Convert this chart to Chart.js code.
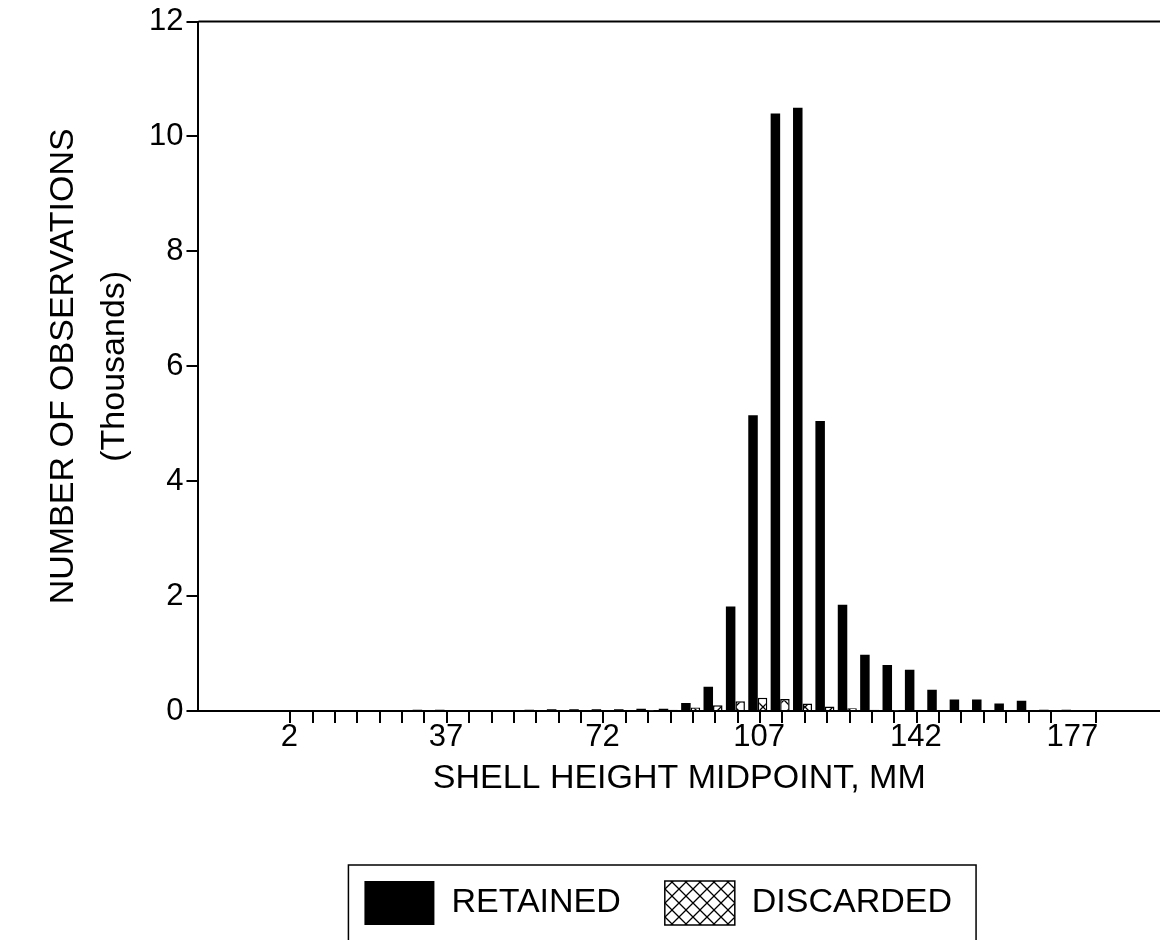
<!DOCTYPE html>
<html>
<head>
<meta charset="utf-8">
<script src="https://cdn.jsdelivr.net/npm/chart.js@4.4.1/dist/chart.umd.min.js"></script>
<style>
html,body{margin:0;padding:0;background:#ffffff;}
#wrap{width:1160px;height:940px;position:relative;overflow:hidden;}
</style>
</head>
<body>
<div id="wrap"><canvas id="c" width="1160" height="940"></canvas></div>
<script>
// Shell height class midpoints (mm)
const midpoints = [2,7,12,17,22,27,32,37,42,47,52,57,62,67,72,77,82,87,92,97,102,107,112,117,122,127,132,137,142,147,152,157,162,167,172];
// Number of observations (thousands)
const retained  = [0,0,0,0,0,0.02,0.02,0,0.01,0,0.02,0.03,0.03,0.03,0.03,0.04,0.04,0.14,0.42,1.82,5.15,10.4,10.5,5.05,1.85,0.98,0.8,0.72,0.37,0.2,0.2,0.13,0.18,0.02,0.02];
const discarded = [0,0,0,0,0,0,0,0,0,0,0,0,0,0,0,0.01,0.02,0.06,0.1,0.17,0.23,0.21,0.13,0.08,0.05,0.02,0.01,0,0,0,0,0,0,0,0];
// Class boundaries carrying tick marks, and the labelled midpoints
const tickBoundaries = [0,5,10,15,20,25,30,35,40,45,50,55,60,65,70,75,80,85,90,95,100,105,110,115,120,125,130,135,140,145,150,155,160,165,170,175];
const lastTickMark = 170;
const tickLabels = ['2','37','72','107','142','177'];
const yTicks = [0,2,4,6,8,10,12];

const FONT = "'Liberation Sans', Arial, Helvetica, sans-serif";
const ctx = document.getElementById('c').getContext('2d');

function makeHatch() {
  const s = 14;
  const t = document.createElement('canvas');
  t.width = s; t.height = s;
  const g = t.getContext('2d');
  g.fillStyle = '#ffffff';
  g.fillRect(0, 0, s, s);
  g.strokeStyle = '#000000';
  g.lineWidth = 1.3;
  g.beginPath();
  g.moveTo(-2, -2); g.lineTo(s + 2, s + 2);
  g.moveTo(s + 2, -2); g.lineTo(-2, s + 2);
  g.stroke();
  return ctx.createPattern(t, 'repeat');
}
const hatch = makeHatch();

const framePlugin = {
  id: 'frame',
  afterLayout(chart) {
    // nudge the legend block slightly left, as in the original
    const lg = chart.legend;
    if (lg) { lg.left -= 21; lg.right -= 21; }
  },
  afterDraw(chart) {
    const c = chart.ctx, a = chart.chartArea;
    c.save();
    c.strokeStyle = '#000';
    c.lineWidth = 2;
    c.beginPath();
    c.moveTo(a.left, a.top);
    c.lineTo(a.right, a.top);
    c.stroke();
    const hb = chart.legend && chart.legend.legendHitBoxes;
    if (hb && hb.length) {
      const first = hb[0], last = hb[hb.length - 1];
      const l = first.left - 16, t = first.top - 16;
      const r = last.left + last.width + 24;
      c.lineWidth = 1.5;
      c.strokeRect(l, t, r - l, chart.height + 30 - t);
    }
    c.restore();
  }
};

new Chart(ctx, {
  type: 'bar',
  data: {
    datasets: [
      {
        label: 'RETAINED',
        data: midpoints.map((m, i) => ({x: m, y: retained[i]})),
        backgroundColor: '#000000',
        borderColor: '#000000',
        borderWidth: 0,
        categoryPercentage: 0.85,
        barPercentage: 1.0
      },
      {
        label: 'DISCARDED',
        data: midpoints.map((m, i) => ({x: m, y: discarded[i]})),
        backgroundColor: hatch,
        borderColor: '#000000',
        borderWidth: 1.5,
        categoryPercentage: 0.85,
        barPercentage: 1.0
      }
    ]
  },
  options: {
    responsive: false,
    animation: false,
    devicePixelRatio: 1,
    layout: { padding: { left: 34, right: 0, top: 4, bottom: 5 } },
    plugins: {
      tooltip: { enabled: false },
      legend: {
        position: 'bottom',
        fullSize: false,
        labels: {
          color: '#000',
          font: { family: FONT, size: 34 },
          boxWidth: 70,
          boxHeight: 44,
          padding: 44
        }
      }
    },
    scales: {
      x: {
        type: 'linear',
        min: -22.98,
        max: 191.88,
        offset: false,
        afterBuildTicks: (scale) => { scale.ticks = tickBoundaries.map(v => ({ value: v })); },
        ticks: {
          autoSkip: false,
          maxRotation: 0,
          minRotation: 0,
          labelOffset: -12,
          padding: -4,
          color: '#000',
          font: { family: FONT, size: 31 },
          callback: (v) => {
            const idx = tickLabels.indexOf(String(v + 2));
            return idx >= 0 ? tickLabels[idx] : '';
          }
        },
        grid: {
          drawOnChartArea: false,
          drawTicks: true,
          tickLength: 12,
          lineWidth: 2,
          color: (c) => (c.tick && c.tick.value > lastTickMark) ? 'rgba(0,0,0,0)' : '#000'
        },
        border: { display: true, color: '#000', width: 2 },
        title: {
          display: true,
          text: 'SHELL HEIGHT MIDPOINT, MM',
          color: '#000',
          font: { family: FONT, size: 34 },
          padding: { top: 6, bottom: 38 }
        }
      },
      y: {
        min: 0,
        max: 12,
        afterBuildTicks: (scale) => { scale.ticks = yTicks.map(v => ({ value: v })); },
        ticks: {
          color: '#000',
          padding: 3,
          font: { family: FONT, size: 31 }
        },
        grid: {
          drawOnChartArea: false,
          drawTicks: true,
          tickLength: 12,
          lineWidth: 2,
          color: '#000'
        },
        border: { display: true, color: '#000', width: 2 },
        title: {
          display: true,
          text: ['NUMBER OF OBSERVATIONS', '(Thousands)'],
          color: '#000',
          font: { family: FONT, size: 34, lineHeight: 1.5 },
          padding: { top: 4, bottom: 6 }
        }
      }
    }
  },
  plugins: [framePlugin]
});
</script>
</body>
</html>
